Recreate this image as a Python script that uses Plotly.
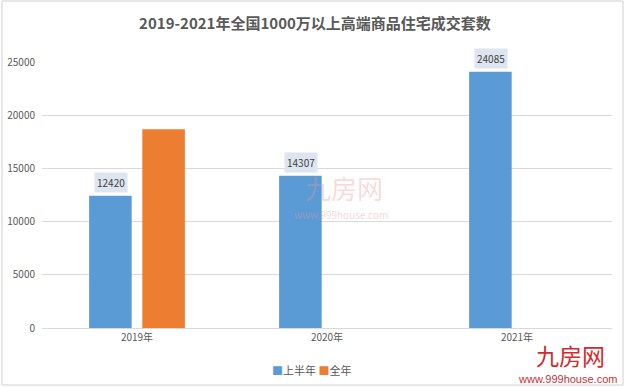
import plotly.graph_objects as go

categories = ["2019年", "2020年", "2021年"]
half_year = [12420, 14307, 24085]
full_year = [18680, None, None]
y_ticks = [0, 5000, 10000, 15000, 20000, 25000]
y_tick_labels = ["0", "5000", "10000", "15000", "20000", "25000"]
series_names = ["上半年", "全年"]

FONT = "Noto Sans CJK SC, Microsoft YaHei, sans-serif"
BLUE = "#5b9bd5"
ORANGE = "#ed7d31"

fig = go.Figure()
fig.add_trace(go.Bar(name=series_names[0], x=categories, y=half_year,
                     marker=dict(color=BLUE, line=dict(width=0))))
fig.add_trace(go.Bar(name=series_names[1], x=categories, y=full_year,
                     marker=dict(color=ORANGE, line=dict(width=0))))

L, R, T, B = 42, 13, 62, 59
W, H = 625, 387
pw, ph = W - L - R, H - T - B


def px(x):
    return (x - L) / pw


def py(y):
    return (H - B - y) / ph


annotations = []
for c, v in zip(categories, half_year):
    annotations.append(dict(x=c, y=v, xref="x", yref="y", text=str(v), showarrow=False,
                            xanchor="center", yanchor="middle",
                            xshift=-26, yshift=13, bgcolor="#dde6f0",
                            font=dict(family=FONT, size=10, color="#404040"), borderpad=2))

# legend drawn as text
legend_text = (f'<span style="color:{BLUE}">■</span>{series_names[0]} '
               f'<span style="color:{ORANGE}">■</span>{series_names[1]}')
annotations.append(dict(xref="paper", yref="paper", x=px(311), y=py(370), text=legend_text,
                        showarrow=False, xanchor="center", yanchor="middle",
                        font=dict(family=FONT, size=11, color="#595959")))

# watermarks
annotations += [
    dict(xref="paper", yref="paper", x=px(344), y=py(187), text="九房网", xanchor="center", yanchor="middle",
         showarrow=False, font=dict(family=FONT, size=26, color="rgba(235,150,150,0.35)")),
    dict(xref="paper", yref="paper", x=px(341), y=py(214), text="www.999house.com", xanchor="center", yanchor="middle",
         showarrow=False, font=dict(family=FONT, size=10, color="rgba(225,150,150,0.4)")),
    dict(xref="paper", yref="paper", x=px(570), y=py(355), text="九房网", xanchor="center", yanchor="middle",
         showarrow=False, font=dict(family=FONT, size=23, color="#d42a2a")),
    dict(xref="paper", yref="paper", x=px(567), y=py(379), text="www.999house.com", xanchor="center", yanchor="middle",
         showarrow=False, font=dict(family="Arial, Liberation Sans, sans-serif", size=11, color="#c83232")),
]

fig.update_layout(
    width=W, height=H,
    margin=dict(l=L, r=R, t=T, b=B, autoexpand=False),
    paper_bgcolor="white", plot_bgcolor="white",
    title=dict(text="<b>2019-2021年全国1000万以上高端商品住宅成交套数</b>",
               x=315 / W, xanchor="center", y=1 - 24 / H, yanchor="middle",
               font=dict(family=FONT, size=15, color="#595959")),
    barmode="group", bargap=0.44, bargroupgap=0.2,
    showlegend=False,
    xaxis=dict(showgrid=False, showline=True, linecolor="#d9d9d9", linewidth=1,
               tickfont=dict(family=FONT, size=10, color="#595959"), ticks="",
               automargin=False, fixedrange=True),
    yaxis=dict(range=[0, 25000], tickvals=y_ticks, ticktext=y_tick_labels,
               showgrid=True, gridcolor="#d9d9d9",
               gridwidth=1, zeroline=False, showline=False, automargin=False,
               tickfont=dict(family=FONT, size=10, color="#595959"),
               ticklabelstandoff=6),
    annotations=annotations,
    shapes=[dict(type="rect", xref="paper", yref="paper",
                 x0=px(2), x1=px(623), y0=py(385), y1=py(1),
                 line=dict(color="#d0d0d0", width=1), layer="below")],
)

fig.write_html("out.html", config={"displayModeBar": False},
               post_script="document.body.style.margin='0';document.body.style.padding='0';")
